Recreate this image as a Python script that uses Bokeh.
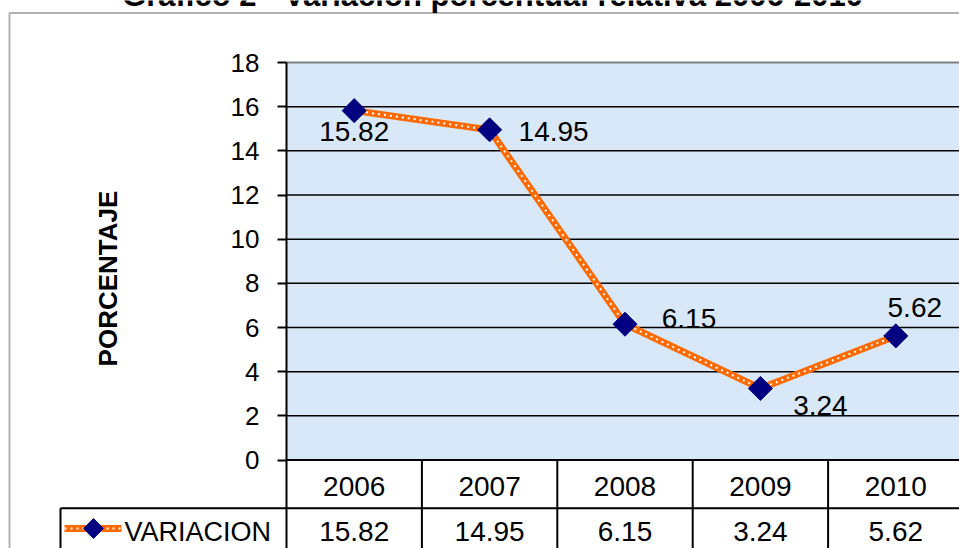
import math
from bokeh.plotting import figure
from bokeh.models import Range1d, FixedTicker, BoxAnnotation, Label, LinearAxis
from bokeh.embed import file_html
from bokeh.resources import INLINE
from bokeh.core.properties import value

# ---------------- data ----------------
title_text = "Gráfico 2 - Variación porcentual relativa 2006-2010"
years = ["2006", "2007", "2008", "2009", "2010"]
variacion = [15.82, 14.95, 6.15, 3.24, 5.62]
y_ticks = [0, 2, 4, 6, 8, 10, 12, 14, 16, 18]
series_name = "VARIACION"
y_label = "PORCENTAJE"

# data-label placement offsets (pixels, style only)
label_dx = [0, 64, 64, 60, 19]
label_dy = [21, 2, -6, 17, -28]

# ---------------- layout constants ----------------
W, H = 959, 548
FONT = "Liberation Sans"
ORANGE = "#ff6a00"
NAVY = "#000080"
BG = "#d9e8f8"
NUM_SIZE = "28px"

plot_left, plot_top = 286, 62       # canvas px of plot-area corner
zero_y = 459.5                      # canvas y of value 0
y_max = y_ticks[-1]
px_y = (zero_y - plot_top) / y_max
px_x = 135.4


def cy(canvas_y):
    return (zero_y - canvas_y) / px_y


def cx(canvas_x):
    return -0.5 + (canvas_x - plot_left) / px_x


table_bottom = cy(H)
row_sep = cy(507.7)
year_row_y = cy(486)
value_row_y = cy(531)
legend_left = cx(60)

xs = list(range(len(years)))
n = len(years)

p = figure(width=W, height=H, output_backend="svg", toolbar_location=None,
           x_range=Range1d(cx(0), cx(W)), y_range=Range1d(cy(H), cy(0)),
           x_axis_location=None, y_axis_location=None,
           min_border_left=0, min_border_right=0,
           min_border_top=0, min_border_bottom=0)
p.outline_line_color = None
p.grid.visible = False
p.background_fill_color = "white"
p.border_fill_color = "white"

# plot-area background
p.quad(left=[-0.5], right=[n - 0.5], bottom=[0], top=[y_max],
       fill_color=BG, line_color=None)

# gridlines
inner = y_ticks[1:-1]
p.segment(x0=[-0.5] * len(inner), y0=inner, x1=[n - 0.5] * len(inner), y1=inner,
          line_color="black", line_width=1.5)
p.segment(x0=[-0.5], y0=[y_max], x1=[n - 0.5], y1=[y_max],
          line_color="#808080", line_width=2)
# x-axis line and data-table row separator / legend cell border
p.segment(x0=[-0.5, legend_left, legend_left], y0=[0, row_sep, row_sep],
          x1=[n - 0.5, n - 0.5, legend_left], y1=[0, row_sep, table_bottom],
          line_color="black", line_width=2)

# table column dividers
p.segment(x0=[i + 0.5 for i in xs], y0=[0] * n,
          x1=[i + 0.5 for i in xs], y1=[table_bottom] * n,
          line_color="black", line_width=2)

# y axis at the plot-area edge
ax = LinearAxis(fixed_location=-0.5, bounds=(table_bottom, y_max))
ax.ticker = FixedTicker(ticks=y_ticks, minor_ticks=[])
ax.major_label_text_font = FONT
ax.major_label_text_font_size = "26px"
ax.major_label_text_color = "black"
ax.major_tick_in = 0
ax.major_tick_out = 9
ax.major_tick_line_width = 2
ax.major_tick_line_color = "black"
ax.minor_tick_line_color = None
ax.axis_line_width = 2
ax.axis_line_color = "black"
ax.major_label_standoff = 18
p.add_layout(ax, "left")

# series
p.line(xs, variacion, line_color=ORANGE, line_width=7)
p.line(xs, variacion, line_color="white", line_width=2, line_dash="2 4")
p.scatter(xs, variacion, marker="square", size=17, angle=math.pi / 4,
          fill_color=NAVY, line_color=NAVY)

# data labels
p.text(xs, variacion, text=[f"{v:.2f}" for v in variacion],
       x_offset=label_dx, y_offset=label_dy,
       text_font=value(FONT), text_font_size=NUM_SIZE, text_color="black",
       text_align="center", text_baseline="middle")

# table texts
p.text(xs, [year_row_y] * n, text=years,
       text_font=value(FONT), text_font_size=NUM_SIZE, text_color="black",
       text_align="center", text_baseline="middle")
p.text(xs, [value_row_y] * n, text=[f"{v:.2f}" for v in variacion],
       text_font=value(FONT), text_font_size=NUM_SIZE, text_color="black",
       text_align="center", text_baseline="middle")

# legend key in the table's first column
key_y = cy(528)
p.line([cx(64), cx(121)], [key_y, key_y], line_color=ORANGE, line_width=7)
p.line([cx(64), cx(121)], [key_y, key_y], line_color="white", line_width=2, line_dash="2 4")
p.scatter([cx(93)], [key_y], marker="square", size=14, angle=math.pi / 4,
          fill_color=NAVY, line_color=NAVY)
p.text([cx(124)], [value_row_y], text=[series_name],
       text_font=value(FONT), text_font_size="27px", text_color="black",
       text_align="left", text_baseline="middle")

# y axis title
p.add_layout(Label(x=cx(107), y=cy(278), text=y_label, angle=math.pi / 2,
                   text_font=FONT, text_font_size="26px", text_font_style="bold",
                   text_color="black", text_align="center", text_baseline="middle"))

# chart title (mostly above the visible area in the reference)
p.add_layout(Label(x=cx(492), y=cy(-5), text=title_text,
                   text_font=FONT, text_font_size="31px", text_font_style="bold",
                   text_color="black", text_align="center", text_baseline="alphabetic"))

# outer chart border
p.add_layout(BoxAnnotation(left=cx(9), top=cy(12.5), right=cx(3000), bottom=cy(3000),
                           fill_color=None, fill_alpha=0, line_color="black", line_width=2))

open("out.html", "w").write(file_html(p, INLINE))
